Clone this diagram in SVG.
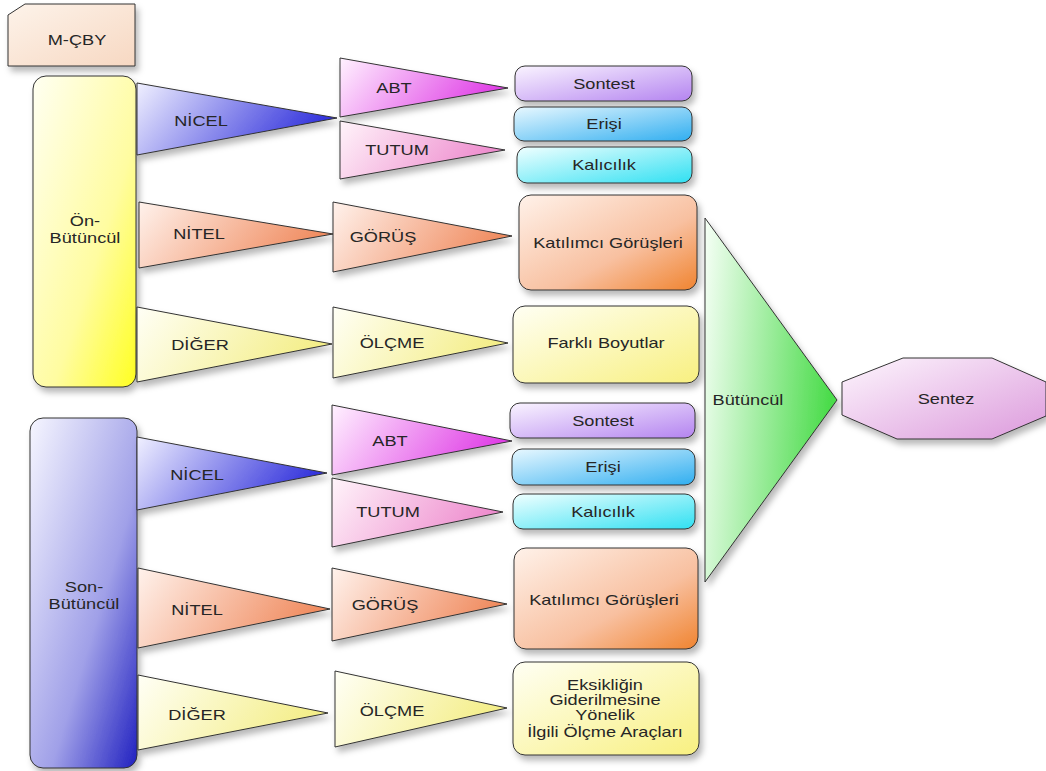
<svg xmlns="http://www.w3.org/2000/svg" width="1046" height="771" viewBox="0 0 1046 771">
  <defs>
    <filter id="shadow" x="-10%" y="-10%" width="130%" height="140%">
      <feDropShadow dx="3" dy="5" stdDeviation="3" flood-color="#000" flood-opacity="0.28"/>
    </filter>
    <!-- diagonal fills for boxes -->
    <linearGradient id="gPeach" x1="0" y1="0" x2="1" y2="1"><stop offset="0" stop-color="#fdf3ea"/><stop offset="1" stop-color="#f7d8c2"/></linearGradient>
    <linearGradient id="gYellowBar" x1="0" y1="0" x2="1" y2="1"><stop offset="0" stop-color="#fffff2"/><stop offset="0.6" stop-color="#fffca0"/><stop offset="1" stop-color="#ffff20"/></linearGradient>
    <linearGradient id="gBlueBar" x1="0" y1="0" x2="1" y2="1"><stop offset="0" stop-color="#f6f6ff"/><stop offset="0.6" stop-color="#a0a0e8"/><stop offset="1" stop-color="#2020c0"/></linearGradient>
    <linearGradient id="gLav" x1="0" y1="0" x2="1" y2="1"><stop offset="0" stop-color="#faf4ff"/><stop offset="1" stop-color="#b484f0"/></linearGradient>
    <linearGradient id="gSky" x1="0" y1="0" x2="1" y2="1"><stop offset="0" stop-color="#e8f8ff"/><stop offset="1" stop-color="#30aef0"/></linearGradient>
    <linearGradient id="gCyan" x1="0" y1="0" x2="1" y2="1"><stop offset="0" stop-color="#f0ffff"/><stop offset="1" stop-color="#30e0f2"/></linearGradient>
    <linearGradient id="gOrange" x1="0" y1="0" x2="1" y2="1"><stop offset="0" stop-color="#fff2ea"/><stop offset="0.6" stop-color="#f8c0a0"/><stop offset="1" stop-color="#f08430"/></linearGradient>
    <linearGradient id="gLemon" x1="0" y1="0" x2="1" y2="1"><stop offset="0" stop-color="#fffff4"/><stop offset="1" stop-color="#f8f080"/></linearGradient>
    <linearGradient id="gSentez" x1="0" y1="0" x2="1" y2="1"><stop offset="0" stop-color="#fdf6fd"/><stop offset="1" stop-color="#dc9adc"/></linearGradient>
    <!-- left-to-tip fills for wedges -->
    <linearGradient id="tBlue" x1="0" y1="0" x2="1" y2="0.3"><stop offset="0" stop-color="#f0f0ff"/><stop offset="1" stop-color="#3434dc"/></linearGradient>
    <linearGradient id="tMagenta" x1="0" y1="0" x2="1" y2="0.3"><stop offset="0" stop-color="#fff2ff"/><stop offset="1" stop-color="#e040e6"/></linearGradient>
    <linearGradient id="tPink" x1="0" y1="0" x2="1" y2="0.3"><stop offset="0" stop-color="#fff4fa"/><stop offset="1" stop-color="#ee8cce"/></linearGradient>
    <linearGradient id="tSalmon" x1="0" y1="0" x2="1" y2="0.3"><stop offset="0" stop-color="#fff2ec"/><stop offset="1" stop-color="#f08c60"/></linearGradient>
    <linearGradient id="tLemon" x1="0" y1="0" x2="1" y2="0.3"><stop offset="0" stop-color="#fffff6"/><stop offset="1" stop-color="#f4ee88"/></linearGradient>
    <linearGradient id="tGreen" x1="0" y1="0" x2="1" y2="0.2"><stop offset="0" stop-color="#f6fff6"/><stop offset="1" stop-color="#4cdc4c"/></linearGradient>
  </defs>
  <style>
    .s { stroke: #333; stroke-width: 1; filter: url(#shadow); }
    .t { font-family: "Liberation Sans", Arial, sans-serif; font-size: 14px; fill: #262626; text-anchor: middle; }
  </style>

  <rect width="1046" height="771" fill="#fff"/>

  <g id="mcby">
    <path class="s" d="M8,15 L25,4 L135,4 L135,66 L8,66 Z" fill="url(#gPeach)"/>
    <text class="t" transform="translate(77,45) scale(1.3,1)">M-ÇBY</text>
  </g>

  <!-- upper branch -->
  <g id="on-butuncul">
    <rect class="s" x="33" y="76" width="103" height="311" rx="13" fill="url(#gYellowBar)"/>
    <text class="t" transform="translate(85,226) scale(1.3,1)">Ön-</text>
    <text class="t" transform="translate(85,243) scale(1.3,1)">Bütüncül</text>
  </g>
  <g id="on-nicel">
    <polygon class="s" points="137,83 337,118 137,155" fill="url(#tBlue)"/>
    <text class="t" transform="translate(201,126) scale(1.3,1)">NİCEL</text>
  </g>
  <g id="on-nitel">
    <polygon class="s" points="139,202 333,234 139,268" fill="url(#tSalmon)"/>
    <text class="t" transform="translate(199,239) scale(1.3,1)">NİTEL</text>
  </g>
  <g id="on-diger">
    <polygon class="s" points="137,307 332,344 137,382" fill="url(#tLemon)"/>
    <text class="t" transform="translate(200,350) scale(1.3,1)">DİĞER</text>
  </g>
  <g id="on-abt">
    <polygon class="s" points="340,58 508,88 340,117" fill="url(#tMagenta)"/>
    <text class="t" transform="translate(394,93) scale(1.3,1)">ABT</text>
  </g>
  <g id="on-tutum">
    <polygon class="s" points="340,121 505,150 340,179" fill="url(#tPink)"/>
    <text class="t" transform="translate(397,155) scale(1.3,1)">TUTUM</text>
  </g>
  <g id="on-gorus">
    <polygon class="s" points="333,202 512,236 333,272" fill="url(#tSalmon)"/>
    <text class="t" transform="translate(383,242) scale(1.3,1)">GÖRÜŞ</text>
  </g>
  <g id="on-olcme">
    <polygon class="s" points="333,307 508,343 333,378" fill="url(#tLemon)"/>
    <text class="t" transform="translate(392,348) scale(1.3,1)">ÖLÇME</text>
  </g>
  <g id="on-sontest">
    <rect class="s" x="515" y="66" width="177" height="35" rx="10" fill="url(#gLav)"/>
    <text class="t" transform="translate(604,89) scale(1.3,1)">Sontest</text>
  </g>
  <g id="on-erisi">
    <rect class="s" x="514" y="107" width="178" height="34" rx="10" fill="url(#gSky)"/>
    <text class="t" transform="translate(604,129) scale(1.3,1)">Erişi</text>
  </g>
  <g id="on-kalicilik">
    <rect class="s" x="517" y="147" width="175" height="36" rx="10" fill="url(#gCyan)"/>
    <text class="t" transform="translate(604,170) scale(1.3,1)">Kalıcılık</text>
  </g>
  <g id="on-katilimci">
    <rect class="s" x="519" y="195" width="178" height="95" rx="12" fill="url(#gOrange)"/>
    <text class="t" transform="translate(608,248) scale(1.3,1)">Katılımcı Görüşleri</text>
  </g>
  <g id="on-farkli">
    <rect class="s" x="513" y="306" width="186" height="77" rx="12" fill="url(#gLemon)"/>
    <text class="t" transform="translate(606,348) scale(1.3,1)">Farklı Boyutlar</text>
  </g>

  <!-- lower branch -->
  <g id="son-butuncul">
    <rect class="s" x="30" y="418" width="107" height="350" rx="13" fill="url(#gBlueBar)"/>
    <text class="t" transform="translate(84,592) scale(1.3,1)">Son-</text>
    <text class="t" transform="translate(84,609) scale(1.3,1)">Bütüncül</text>
  </g>
  <g id="son-nicel">
    <polygon class="s" points="137,437 327,473 137,510" fill="url(#tBlue)"/>
    <text class="t" transform="translate(197,480) scale(1.3,1)">NİCEL</text>
  </g>
  <g id="son-nitel">
    <polygon class="s" points="138,568 330,609 138,648" fill="url(#tSalmon)"/>
    <text class="t" transform="translate(197,615) scale(1.3,1)">NİTEL</text>
  </g>
  <g id="son-diger">
    <polygon class="s" points="138,675 328,713 138,750" fill="url(#tLemon)"/>
    <text class="t" transform="translate(197,720) scale(1.3,1)">DİĞER</text>
  </g>
  <g id="son-abt">
    <polygon class="s" points="332,405 512,441 332,475" fill="url(#tMagenta)"/>
    <text class="t" transform="translate(390,446) scale(1.3,1)">ABT</text>
  </g>
  <g id="son-tutum">
    <polygon class="s" points="332,478 503,512 332,547" fill="url(#tPink)"/>
    <text class="t" transform="translate(388,517) scale(1.3,1)">TUTUM</text>
  </g>
  <g id="son-gorus">
    <polygon class="s" points="332,568 507,604 332,641" fill="url(#tSalmon)"/>
    <text class="t" transform="translate(385,610) scale(1.3,1)">GÖRÜŞ</text>
  </g>
  <g id="son-olcme">
    <polygon class="s" points="335,671 507,708 335,747" fill="url(#tLemon)"/>
    <text class="t" transform="translate(392,716) scale(1.3,1)">ÖLÇME</text>
  </g>
  <g id="son-sontest">
    <rect class="s" x="510" y="403" width="185" height="35" rx="10" fill="url(#gLav)"/>
    <text class="t" transform="translate(603,426) scale(1.3,1)">Sontest</text>
  </g>
  <g id="son-erisi">
    <rect class="s" x="512" y="449" width="183" height="36" rx="10" fill="url(#gSky)"/>
    <text class="t" transform="translate(603,472) scale(1.3,1)">Erişi</text>
  </g>
  <g id="son-kalicilik">
    <rect class="s" x="513" y="494" width="182" height="35" rx="10" fill="url(#gCyan)"/>
    <text class="t" transform="translate(603,517) scale(1.3,1)">Kalıcılık</text>
  </g>
  <g id="son-katilimci">
    <rect class="s" x="514" y="548" width="184" height="101" rx="12" fill="url(#gOrange)"/>
    <text class="t" transform="translate(604,605) scale(1.3,1)">Katılımcı Görüşleri</text>
  </g>
  <g id="son-eksiklik">
    <rect class="s" x="513" y="662" width="186" height="93" rx="12" fill="url(#gLemon)"/>
    <text class="t" transform="translate(605,690) scale(1.3,1)">Eksikliğin</text>
    <text class="t" transform="translate(605,705) scale(1.3,1)">Giderilmesine</text>
    <text class="t" transform="translate(605,720) scale(1.3,1)">Yönelik</text>
    <text class="t" transform="translate(605,737) scale(1.3,1)">İlgili Ölçme Araçları</text>
  </g>

  <!-- synthesis -->
  <g id="butuncul">
    <polygon class="s" points="705,218 837,400 705,582" fill="url(#tGreen)"/>
    <text class="t" transform="translate(748,405) scale(1.3,1)">Bütüncül</text>
  </g>
  <g id="sentez">
    <polygon class="s" points="842,382 903,358 992,358 1046,382 1046,416 992,439 897,439 842,415" fill="url(#gSentez)"/>
    <text class="t" transform="translate(946,404) scale(1.3,1)">Sentez</text>
  </g>
</svg>
